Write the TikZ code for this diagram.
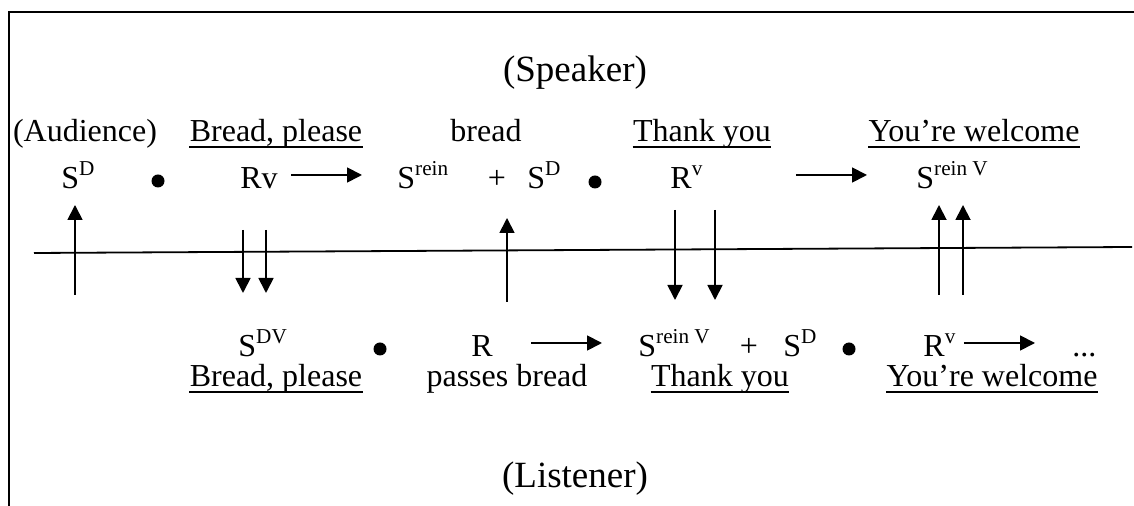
\documentclass[tikz,border=0pt]{standalone}
\usepackage{fontspec}
\setmainfont{Liberation Serif}
\usepackage{tikz}
\usetikzlibrary{arrows.meta}

\newcommand{\upx}[1]{\raisebox{6.5pt}{\fontsize{10.6}{12}\selectfont #1}}

\begin{document}
\begin{tikzpicture}[
    x=0.5pt, y=-0.5pt,
    lbl/.style={inner sep=0pt, anchor=base, font=\fontsize{16}{19}\selectfont},
    sym/.style={inner sep=0pt, anchor=base west, font=\fontsize{16}{19}\selectfont},
    role/.style={inner sep=0pt, anchor=base, font=\fontsize{18.5}{22}\selectfont},
    dot/.style={circle, fill, inner sep=0pt, minimum size=6.5pt},
    arrow/.style={-{Triangle[length=7.5pt, width=7.5pt]}, line width=0.9pt},
    uline/.style={line width=0.75pt},
    axisline/.style={line width=0.9pt}
]
\useasboundingbox (0,0) rectangle (1134,506);

%% ── Frame and speaker/listener divide ───────────────────────────────
\draw[axisline] (9,506) -- (9,12) -- (1134,12);
\coordinate (divl) at (34,253);
\coordinate (divr) at (1132,247);
\draw[axisline] (divl) -- (divr);

\node[role] (speaker)  at (575,82)  {(Speaker)};
\node[role] (listener) at (575,488) {(Listener)};

%% ── Speaker: words (baseline 142) ───────────────────────────────────
\node[lbl] (audience) at (85,142)  {(Audience)};
\node[lbl] (bread1)   at (276,142) {Bread, please};
\node[lbl] (breadobj) at (486,142) {bread};
\node[lbl] (thank1)   at (702,142) {Thank you};
\node[lbl] (welcome1) at (974,142) {You’re welcome};

%% ── Speaker: chain (baseline 189) ───────────────────────────────────
\node[sym] (sd1)    at (61,189)  {S\upx{D}};
\node[dot] (d1)     at (158,181) {};
\node[sym] (rv1)    at (240,189) {Rv};
\node[sym] (srein1) at (397,189) {S\upx{rein}};
\node[lbl] (plus1)  at (497,189) {+};
\node[sym] (sd2)    at (527,189) {S\upx{D}};
\node[dot] (d2)     at (595,182) {};
\node[sym] (rv2)    at (670,189) {R\upx{v}};
\node[sym] (srv1)   at (916,189) {S\upx{rein V}};

%% ── Listener: chain (baseline 357) ──────────────────────────────────
\node[sym] (sdv)    at (238,357) {S\upx{DV}};
\node[dot] (d3)     at (380,349) {};
\node[lbl] (r1)     at (482,357) {R};
\node[sym] (srv2)   at (638,357) {S\upx{rein V}};
\node[lbl] (plus2)  at (749,357) {+};
\node[sym] (sd3)    at (783,357) {S\upx{D}};
\node[dot] (d4)     at (849,349) {};
\node[sym] (rv3)    at (923,357) {R\upx{v}};
\node[sym] (more)   at (1072,357) {...};

%% ── Listener: words (baseline 387) ──────────────────────────────────
\node[lbl] (bread2)   at (276,387) {Bread, please};
\node[lbl] (passes)   at (507,387) {passes bread};
\node[lbl] (thank2)   at (720,387) {Thank you};
\node[lbl] (welcome2) at (992,387) {You’re welcome};

\foreach \n in {bread1,thank1,welcome1,bread2,thank2,welcome2}
  \draw[uline] ([yshift=-2.5pt]\n.base west) -- ([yshift=-2.5pt]\n.base east);

%% ── Horizontal arrows ───────────────────────────────────────────────
\draw[arrow] ([shift={(6.5pt,7pt)}]rv1.base east)  -- ([shift={(-17.5pt,7pt)}]srein1.base west);
\draw[arrow] ([shift={(46.5pt,7pt)}]rv2.base east) -- ([shift={(-24.5pt,7pt)}]srv1.base west);
\draw[arrow] ([shift={(19pt,7pt)}]r1.base east)    -- ([shift={(-18pt,7pt)}]srv2.base west);
\draw[arrow] ([shift={(4pt,7pt)}]rv3.base east)    -- ([shift={(-18.5pt,7pt)}]more.base west);

%% ── Vertical arrows across the divide ───────────────────────────────
\foreach \x/\ya/\yb [count=\i] in {75/295/205, 507/302/218, 939/295/205, 963/295/205,
                                  243/230/293, 266/230/293, 675/210/300, 715/210/300} {
  \coordinate (va\i) at (\x,\ya);
  \coordinate (vb\i) at (\x,\yb);
  \draw[arrow] (va\i) -- (vb\i);
}

\end{tikzpicture}
\end{document}
